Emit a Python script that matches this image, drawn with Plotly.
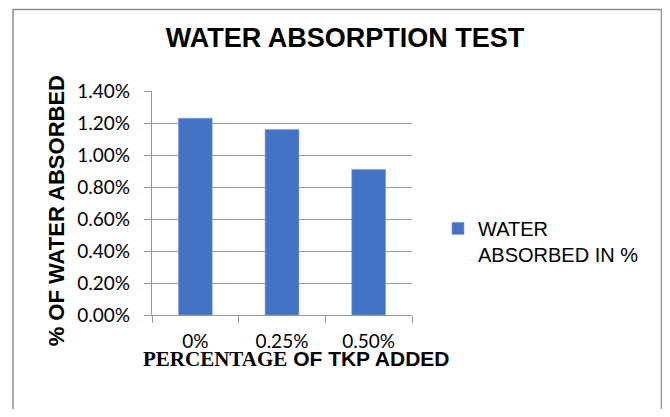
import plotly.graph_objects as go

categories = ["0%", "0.25%", "0.50%"]
water_absorbed = [0.0123, 0.0116, 0.0091]
series_name = "WATER<br>ABSORBED IN %"
title_text = "WATER ABSORPTION TEST"
y_title = "% OF WATER ABSORBED"
x_title_serif = "PERCENTAGE"
x_title_sans = " OF TKP ADDED"

# reference-pixel geometry of the plot area (page coordinates)
PL, PR, PT, PB = 152, 412, 90.7, 315.5
OFF = 8  # page body margin
W, H = 670 - 2 * OFF, 417 - 2 * OFF
pw, ph = PR - PL, PB - PT

def px_x(x):
    return (x - PL) / pw

def px_y(y):
    return (PB - y) / ph

grey = "#9a9a9a"

fig = go.Figure()
fig.add_trace(go.Bar(
    x=categories, y=water_absorbed, name=series_name,
    marker=dict(color="#4472C4", line=dict(color="#7f9fd8", width=0.6)),
    showlegend=True,
))

fig.update_layout(
    width=W, height=H,
    margin=dict(l=PL - OFF, r=W - (PR - OFF), t=PT - OFF, b=H - (PB - OFF)),
    paper_bgcolor="white", plot_bgcolor="white",
    bargap=0.61,
    title=dict(text="<b>" + title_text + "</b>", x=(345 - OFF) / W, y=1 - (38 - OFF) / H,
               xref="container", yref="container", xanchor="center", yanchor="middle",
               font=dict(family="Liberation Sans, Arial", size=27, color="black")),
    showlegend=True,
    legend=dict(x=px_x(438), y=px_y(209), xanchor="left", yanchor="top",
                valign="top", font=dict(family="Liberation Sans, Arial", size=20, color="black"),
                bgcolor="rgba(0,0,0,0)", tracegroupgap=0),
    xaxis=dict(showline=True, linecolor=grey, linewidth=1.3,
               ticks="outside", tickson="boundaries", ticklen=7, tickcolor=grey, tickwidth=1.3,
               showgrid=False, tickfont=dict(family="Lato", size=19, color="black"),
               ticklabelstandoff=9),
    yaxis=dict(range=[0, 0.014], dtick=0.002, tickformat=".2%",
               showline=True, linecolor=grey, linewidth=1.3,
               showgrid=True, gridcolor=grey, gridwidth=1.3,
               ticks="outside", ticklen=7, tickcolor=grey, tickwidth=1.3,
               zeroline=False,
               tickfont=dict(family="Lato", size=19, color="black"),
               ticklabelstandoff=10),
)

fig.add_annotation(
    text="<b>" + y_title + "</b>", textangle=-90,
    x=px_x(56.5), y=px_y(211), xref="paper", yref="paper",
    xanchor="center", yanchor="middle", showarrow=False,
    font=dict(family="Liberation Sans, Arial", size=22, color="black"),
)
fig.add_annotation(
    text="<b><span style='font-family:Liberation Serif, Times New Roman'>" + x_title_serif
         + "</span>" + x_title_sans + "</b>",
    x=px_x(296), y=px_y(360), xref="paper", yref="paper",
    xanchor="center", yanchor="middle", showarrow=False,
    font=dict(family="Liberation Sans, Arial", size=21, color="black"),
)

fig.add_shape(type="rect", xref="paper", yref="paper",
              x0=px_x(13), x1=px_x(661.5), y0=px_y(450), y1=px_y(8.9),
              line=dict(color="#8f8f8f", width=1.5), fillcolor="rgba(0,0,0,0)", layer="below")

fig.write_html("out.html")
